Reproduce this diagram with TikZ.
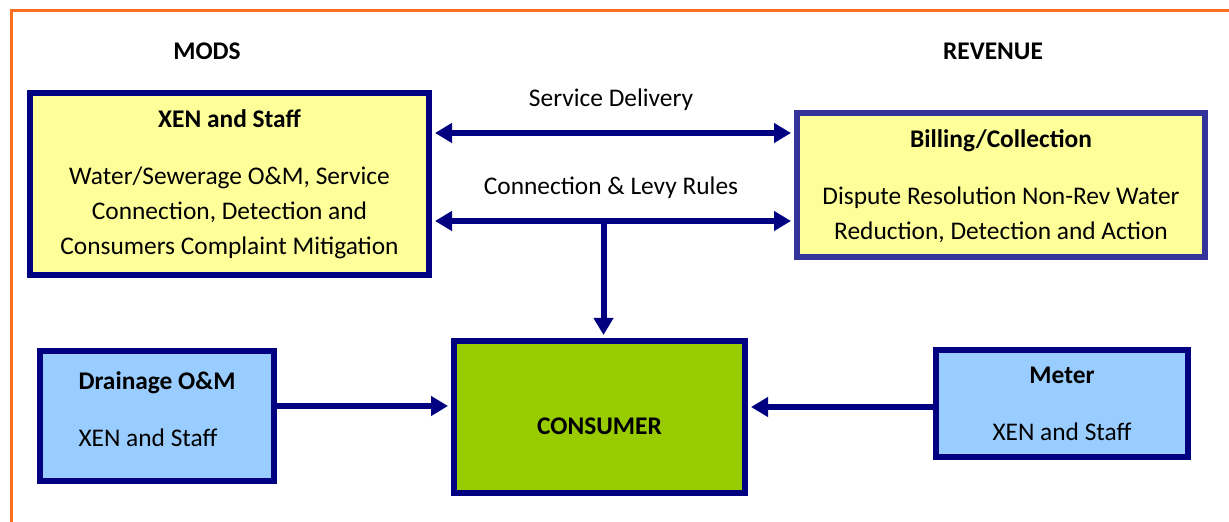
\documentclass[tikz,border=0pt]{standalone}
\usepackage{fontspec}
\setmainfont{Carlito}
\usepackage{xcolor}
\usepackage{tikz}
\usetikzlibrary{arrows.meta,positioning}
\definecolor{navy}{RGB}{0,0,128}
\definecolor{billnavy}{RGB}{51,51,153}
\definecolor{paleyellow}{RGB}{255,255,153}
\definecolor{paleblue}{RGB}{153,204,255}
\definecolor{leafgreen}{RGB}{153,204,0}
\definecolor{frameorange}{RGB}{250,110,30}
\tikzstyle{block}=[
draw=navy,
line width=3pt,
inner sep=0pt,
font=\fontsize{12.7}{17.5}\selectfont
]
\tikzstyle{yellowblock}=[
block,
fill=paleyellow,
align=center
]
\tikzstyle{blueblock}=[
block,
fill=paleblue
]
\tikzstyle{arrow}=[
draw=navy,
line width=3pt,
shorten >=1.5pt,
-{Triangle[length=8.5pt,width=9.5pt]}
]
\tikzstyle{twoway}=[
arrow,
shorten <=1.5pt,
{Triangle[length=8.5pt,width=9.5pt]}-{Triangle[length=8.5pt,width=9.5pt]}
]
\tikzstyle{heading}=[
font=\fontsize{12.7}{14}\selectfont\bfseries
]
\tikzstyle{flowlabel}=[
font=\fontsize{12.7}{14}\selectfont
]

\begin{document}
\begin{tikzpicture}[x=0.5pt,y=-0.5pt]

\useasboundingbox (0,0) rectangle (1229,522);
\draw [frameorange, line width=1.5pt] (11,530) -- (11,11) -- (1240,11);

\node (mods) [heading] at (207,51) {MODS};
\node (revenue) [heading] at (993,51) {REVENUE};

\node (xen) [yellowblock, minimum width=199.5pt, minimum height=91pt] at (229.5,184) {
\textbf{XEN and Staff}\\[11pt]
Water/Sewerage O\&M, Service\\
Connection, Detection and\\
Consumers Complaint Mitigation
};

\node (billing) [yellowblock, draw=billnavy, minimum width=204pt, minimum height=72pt, text depth=0pt] at (1001,185) {
\textbf{Billing/Collection}\\[11pt]
Dispute Resolution Non-Rev Water\\
Reduction, Detection and Action
};

\node (consumer) [block, fill=leafgreen, minimum width=145.5pt, minimum height=76pt, text height=18pt] at (599.5,417) {\textbf{CONSUMER}};

\node (drainage) [blueblock, align=left, minimum width=117pt, minimum height=65pt, text depth=7pt] at (157,416) {
\textbf{Drainage O\&M}\\[11pt]
XEN and Staff
};

\node (meter) [blueblock, align=center, minimum width=126pt, minimum height=53.5pt] at (1062,403.5) {
\textbf{Meter}\\[11pt]
XEN and Staff
};

\draw [twoway] ([yshift=25.5pt]xen.east) -- ([yshift=25.5pt]xen.east -| billing.west);
\draw [twoway] ([yshift=-18.5pt]xen.east) -- ([yshift=-18.5pt]xen.east -| billing.west);
\node (delivery) [flowlabel] at (611,100) {Service Delivery};
\node (levy) [flowlabel] at (611,188) {Connection \& Levy Rules};

\coordinate (split) at (603.5,221);
\draw [arrow] (split) -- (split |- consumer.north);

\draw [arrow] ([yshift=5pt]drainage.east) -- ([yshift=5pt]drainage.east -| consumer.west);
\draw [arrow] ([yshift=-1.75pt]meter.west) -- ([yshift=-1.75pt]meter.west -| consumer.east);

\end{tikzpicture}
\end{document}
